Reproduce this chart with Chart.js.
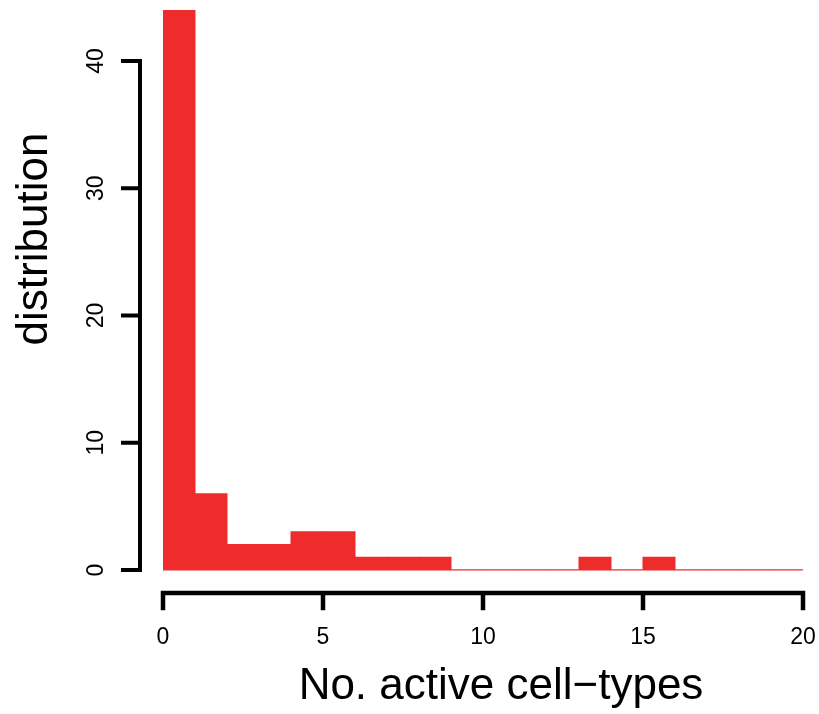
<!DOCTYPE html>
<html lang="en">
<head>
    <meta charset="UTF-8"/>
    <title>No. active cell-types</title>
    <script src="https://cdn.jsdelivr.net/npm/chart.js"></script>
    <style>
        html, body {
            margin: 0;
            padding: 0;
            background-color: #fff;
            overflow: hidden;
        }

        .chart-box {
            width: 819px;
            height: 714px;
            position: relative;
        }
    </style>
</head>
<body>
<div class="chart-box">
    <canvas id="histChart"></canvas>
</div>

<script>
    // histogram bins (left edge) and counts
    const binStarts = [0, 1, 2, 3, 4, 5, 6, 7, 8, 9, 10, 11, 12, 13, 14, 15, 16, 17, 18, 19];
    const binWidth = 1;
    const counts = [44, 6, 2, 2, 3, 3, 1, 1, 1, 0, 0, 0, 0, 1, 0, 1, 0, 0, 0, 0];

    const xTicks = [0, 5, 10, 15, 20];
    const yTicks = [0, 10, 20, 30, 40];

    const xTitle = 'No. active cell\u2212types';
    const yTitle = 'distribution';

    const barColor = '#EE2C2C';
    const fontFamily = "'Liberation Sans', Arial, sans-serif";

    // R-style detached axes, drawn from the chart's own scales
    const rAxesPlugin = {
        id: 'rAxes',
        beforeDatasetsDraw(chart) {
            const {ctx, scales: {x, y}} = chart;
            // baseline of the zero-height bins
            ctx.save();
            ctx.strokeStyle = barColor;
            ctx.lineWidth = 1;
            ctx.beginPath();
            ctx.moveTo(x.getPixelForValue(binStarts[0]), y.getPixelForValue(0));
            ctx.lineTo(x.getPixelForValue(binStarts[binStarts.length - 1] + binWidth), y.getPixelForValue(0));
            ctx.stroke();
            ctx.restore();
        },
        afterDraw(chart) {
            const {ctx, scales: {x, y}} = chart;
            const yAxisX = 140;
            const xAxisY = 593;
            ctx.save();
            ctx.strokeStyle = '#000';
            ctx.fillStyle = '#000';
            ctx.lineCap = 'square';

            // y axis
            ctx.lineWidth = 4;
            ctx.beginPath();
            ctx.moveTo(yAxisX, y.getPixelForValue(yTicks[0]));
            ctx.lineTo(yAxisX, y.getPixelForValue(yTicks[yTicks.length - 1]));
            yTicks.forEach(v => {
                const py = y.getPixelForValue(v);
                ctx.moveTo(yAxisX, py);
                ctx.lineTo(yAxisX - 17, py);
            });
            ctx.stroke();

            ctx.font = '23px ' + fontFamily;
            ctx.textAlign = 'center';
            ctx.textBaseline = 'alphabetic';
            yTicks.forEach(v => {
                ctx.save();
                ctx.translate(103, y.getPixelForValue(v));
                ctx.rotate(-Math.PI / 2);
                ctx.fillText(String(v), 0, 0);
                ctx.restore();
            });

            // x axis
            ctx.lineWidth = 4.5;
            ctx.beginPath();
            ctx.moveTo(x.getPixelForValue(xTicks[0]), xAxisY);
            ctx.lineTo(x.getPixelForValue(xTicks[xTicks.length - 1]), xAxisY);
            xTicks.forEach(v => {
                const px = x.getPixelForValue(v);
                ctx.moveTo(px, xAxisY);
                ctx.lineTo(px, xAxisY + 15);
            });
            ctx.stroke();

            xTicks.forEach(v => {
                ctx.fillText(String(v), x.getPixelForValue(v), 644);
            });

            // axis titles
            ctx.font = '44px ' + fontFamily;
            ctx.fillText(xTitle, 501, 699);

            ctx.save();
            ctx.translate(47, 239);
            ctx.rotate(-Math.PI / 2);
            ctx.fillText(yTitle, 0, 0);
            ctx.restore();

            ctx.restore();
        }
    };

    const histCtx = document.getElementById('histChart').getContext('2d');

    const histChart = new Chart(histCtx, {
        type: 'bar',
        data: {
            datasets: [{
                label: yTitle,
                data: counts.map((c, i) => ({x: binStarts[i] + binWidth / 2, y: c})),
                backgroundColor: barColor,
                borderWidth: 0,
                barPercentage: 1.0,
                categoryPercentage: 1.0,
                inflateAmount: 0.5
            }]
        },
        options: {
            responsive: true,
            maintainAspectRatio: false,
            animation: false,
            layout: {
                padding: {left: 163, right: 16, top: 10, bottom: 144}
            },
            scales: {
                x: {
                    type: 'linear',
                    min: 0,
                    max: 20,
                    offset: false,
                    display: false,
                    ticks: {stepSize: 5}
                },
                y: {
                    min: 0,
                    max: 44,
                    display: false,
                    ticks: {stepSize: 10}
                }
            },
            plugins: {
                legend: {display: false},
                tooltip: {enabled: false}
            }
        },
        plugins: [rAxesPlugin]
    });
</script>
</body>
</html>
